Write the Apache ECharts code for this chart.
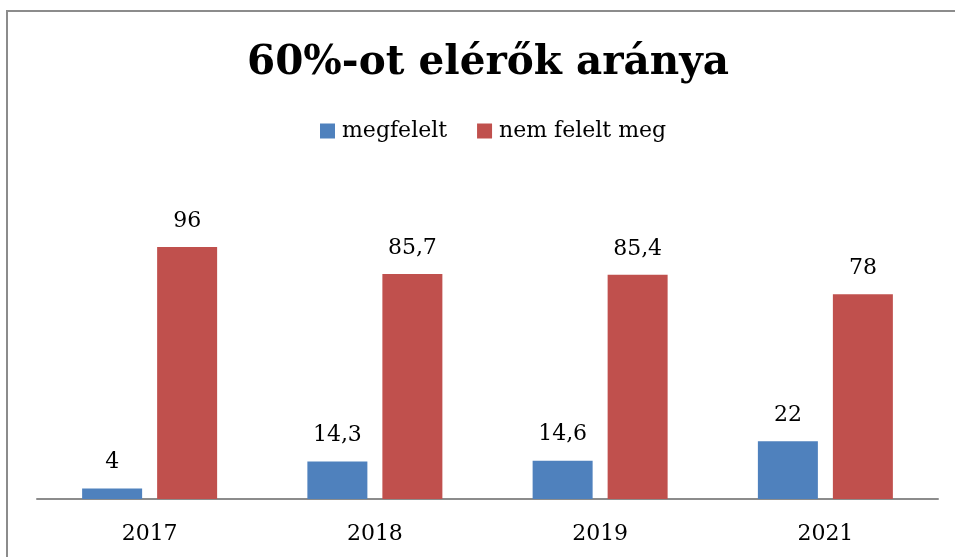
<!DOCTYPE html>
<html>
<head>
<meta charset="utf-8">
<script src="https://cdn.jsdelivr.net/npm/echarts@6/dist/echarts.min.js"></script>
<style>
html,body{margin:0;padding:0;background:#fff;}
#chart{width:955px;height:557px;}
</style>
</head>
<body>
<div id="chart"></div>
<script>
const titleText = '60%-ot elérők aránya';
const categories = ['2017', '2018', '2019', '2021'];
const seriesNames = ['megfelelt', 'nem felelt meg'];
const megfelelt = [4, 14.3, 14.6, 22];
const nemFeleltMeg = [96, 85.7, 85.4, 78];

const FONT = '"DejaVu Serif", "Liberation Serif", serif';
const chart = echarts.init(document.getElementById('chart'), null, {renderer: 'canvas'});
const fmt = p => String(p.value).replace('.', ',');
const labelStyle = {show: true, position: 'top', distance: 15, color: '#000', fontFamily: FONT, fontSize: 22, formatter: fmt};

chart.setOption({
  backgroundColor: '#fff',
  animation: false,
  graphic: [{
    type: 'rect',
    shape: {x: 7, y: 11, width: 1000, height: 600},
    style: {fill: 'none', stroke: '#8c8c8c', lineWidth: 2},
    silent: true,
    z: -1
  }],
  title: {
    text: titleText,
    left: 247,
    top: 43,
    padding: 0,
    textStyle: {fontFamily: FONT, fontWeight: 'bold', fontSize: 40.5, color: '#000'}
  },
  legend: {
    data: seriesNames,
    left: 320,
    top: 120,
    padding: 0,
    itemWidth: 15,
    itemHeight: 15,
    itemGap: 30,
    icon: 'rect',
    textStyle: {fontFamily: FONT, fontSize: 22, color: '#000', padding: [0, 0, 0, 2]}
  },
  grid: {left: 37, right: 17, top: 184, bottom: 58},
  xAxis: {
    type: 'category',
    data: categories,
    axisLine: {lineStyle: {color: '#8c8c8c', width: 2}},
    axisTick: {show: false},
    axisLabel: {fontFamily: FONT, fontSize: 22, color: '#000', margin: 24}
  },
  yAxis: {
    type: 'value',
    min: 0,
    max: 120,
    show: false,
    splitLine: {show: false}
  },
  series: [
    {name: seriesNames[0], type: 'bar', data: megfelelt, barWidth: 60, barGap: '25%',
     itemStyle: {color: '#4F81BD'}, label: labelStyle},
    {name: seriesNames[1], type: 'bar', data: nemFeleltMeg, barWidth: 60, barGap: '25%',
     itemStyle: {color: '#C0504D'}, label: labelStyle}
  ]
});
</script>
</body>
</html>
